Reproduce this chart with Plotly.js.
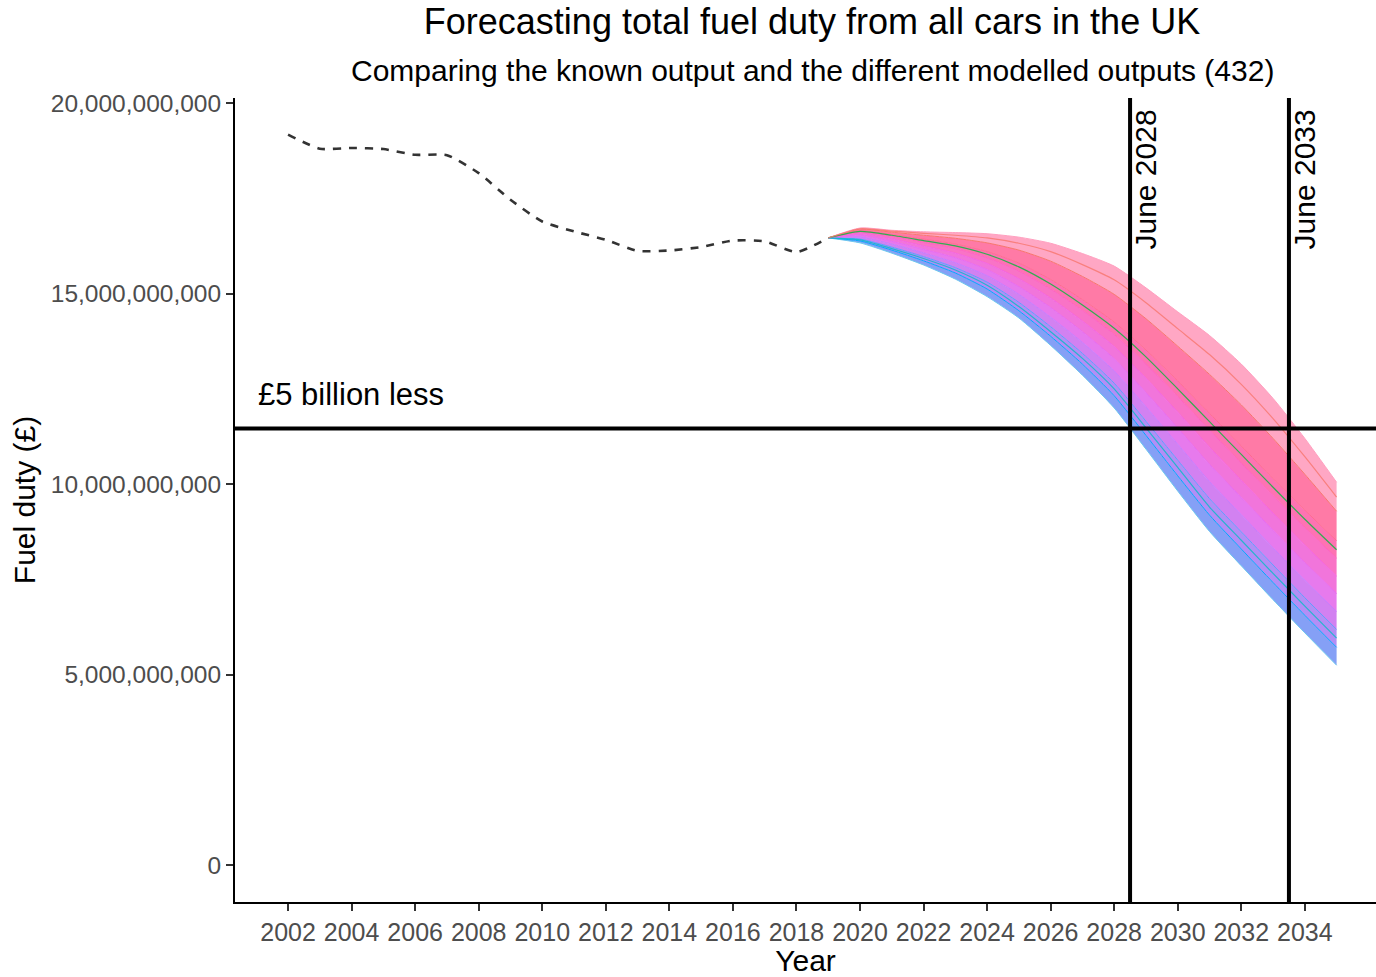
<!DOCTYPE html>
<html>
<head>
<meta charset="utf-8">
<script src="https://cdn.plot.ly/plotly-3.0.1.min.js"></script>
<style>
  html, body { margin: 0; padding: 0; background: #fff; }
  #chart { width: 1376px; height: 977px; }
</style>
</head>
<body>
<div id="chart"></div>
<script>
// ---------------- DATA (values in £ billions) ----------------
const YEARS_HIST = [2002,2003,2004,2005,2006,2007,2008,2009,2010,2011,2012,2013,2014,2015,2016,2017,2018,2019];
const DUTY_HIST_BN = [19.17,18.80,18.82,18.79,18.64,18.63,18.16,17.46,16.89,16.63,16.41,16.12,16.13,16.22,16.39,16.37,16.09,16.46];

const YEARS_MODEL = [2019,2020,2021,2022,2023,2024,2025,2026,2027,2028,2029,2030,2031,2032,2033,2034,2035];
// representative modelled runs, lowest to highest
const run01 = [16.46,16.33,16.06,15.75,15.38,14.92,14.36,13.64,12.86,12.00,10.92,9.82,8.76,7.86,6.97,6.10,5.25];
const run02 = [16.46,16.38,16.14,15.86,15.54,15.12,14.55,13.88,13.15,12.32,11.28,10.22,9.19,8.30,7.42,6.56,5.72];
const run03 = [16.46,16.43,16.22,15.97,15.68,15.30,14.77,14.13,13.43,12.65,11.65,10.63,9.62,8.75,7.88,7.02,6.19];
const run04 = [16.46,16.48,16.30,16.07,15.81,15.47,14.98,14.38,13.72,12.97,12.03,11.05,10.07,9.20,8.33,7.48,6.66];
const run05 = [16.46,16.53,16.37,16.16,15.94,15.63,15.18,14.63,14.00,13.29,12.40,11.47,10.52,9.65,8.79,7.94,7.13];
const run06 = [16.46,16.57,16.44,16.25,16.06,15.79,15.39,14.88,14.28,13.61,12.78,11.89,10.97,10.10,9.24,8.40,7.59];
const run07 = [16.46,16.61,16.50,16.34,16.18,15.94,15.59,15.12,14.56,13.93,13.15,12.30,11.42,10.55,9.70,8.86,8.06];
const run08 = [16.46,16.65,16.55,16.43,16.30,16.10,15.80,15.37,14.84,14.25,13.52,12.71,11.86,11.00,10.15,9.32,8.52];
const run09 = [16.46,16.69,16.61,16.53,16.45,16.33,16.14,15.85,15.45,14.98,14.34,13.62,12.88,12.08,11.20,10.26,9.29];
const run10 = [16.46,16.72,16.66,16.62,16.60,16.57,16.48,16.32,16.05,15.72,15.15,14.52,13.90,13.15,12.25,11.20,10.05];
// a few individually visible runs inside the band
const runA = [16.46,16.63,16.53,16.39,16.25,16.03,15.70,15.25,14.70,14.09,13.34,12.50,11.64,10.78,9.92,9.08,8.28];
const runB = [16.46,16.41,16.18,15.92,15.62,15.22,14.66,14.00,13.30,12.50,11.48,10.44,9.40,8.53,7.66,6.80,5.96];
const runC = [16.46,16.70,16.64,16.58,16.53,16.46,16.32,16.10,15.76,15.36,14.76,14.08,13.40,12.62,11.72,10.72,9.66];

const X_TICKS = [2002,2004,2006,2008,2010,2012,2014,2016,2018,2020,2022,2024,2026,2028,2030,2032,2034];
const Y_TICKS = [0, 5e9, 10e9, 15e9, 20e9];
const Y_TICK_TEXT = ['0','5,000,000,000','10,000,000,000','15,000,000,000','20,000,000,000'];

const MARKERS = [{year: 2028.5, label: 'June 2028'}, {year: 2033.5, label: 'June 2033'}];
const GAP_BN = 5;
const N_RUNS_LABEL = 432;

// ---------------- STYLE ----------------
const RUNS = [run01,run02,run03,run04,run05,run06,run07,run08,run09,run10];
const STROKES = ['#6CC8EE','#00A9FF','#619CFF','#C77CFF','#E76BF3','#F564E3','#FF61C3','#FF6C91','#F8766D','#FFA0C0'];
const FILLS = [null,
  'rgba(120,150,245,0.9)','rgba(170,130,245,0.9)','rgba(205,115,240,0.9)','rgba(228,108,235,0.9)',
  'rgba(240,102,215,0.9)','rgba(248,100,192,0.9)','rgba(253,100,170,0.9)','rgba(255,108,156,0.9)','rgba(255,152,186,0.85)'];
const EXTRA = [{run: runA, color: '#00BA38'}, {run: runB, color: '#00BFC4'}, {run: runC, color: '#F8766D'}];
const FONT = 'Liberation Sans, Arial, Helvetica, sans-serif';
const bn = v => v * 1e9;

const traces = [];
RUNS.forEach((r, i) => {
  traces.push({
    type: 'scatter', mode: 'lines', x: YEARS_MODEL, y: r.map(bn),
    line: {color: STROKES[i], width: 1, shape: 'spline', smoothing: 0.6},
    fill: i === 0 ? 'none' : 'tonexty',
    fillcolor: FILLS[i] || undefined,
    hoverinfo: 'skip', showlegend: false
  });
});
EXTRA.forEach(e => traces.push({
  type: 'scatter', mode: 'lines', x: YEARS_MODEL, y: e.run.map(bn),
  line: {color: e.color, width: 1.2, shape: 'spline', smoothing: 0.6}, opacity: 0.8,
  hoverinfo: 'skip', showlegend: false
}));
traces.push({
  type: 'scatter', mode: 'lines', x: YEARS_HIST, y: DUTY_HIST_BN.map(bn),
  line: {color: '#333333', width: 2.6, dash: '8px,8px', shape: 'spline', smoothing: 0.6},
  showlegend: false
});

const threshold = bn(DUTY_HIST_BN[DUTY_HIST_BN.length - 1] - GAP_BN);

const shapes = [
  {type: 'line', xref: 'paper', x0: 0, x1: 1, yref: 'y', y0: threshold, y1: threshold, line: {color: '#000', width: 4}}
];
MARKERS.forEach(m => shapes.push({type: 'line', xref: 'x', x0: m.year, x1: m.year, yref: 'paper', y0: 0, y1: 1, line: {color: '#000', width: 4}}));

const annotations = [
  {x: 2000.99, y: bn(12.34), xref: 'x', yref: 'y', text: '£' + GAP_BN + ' billion less', showarrow: false,
   xanchor: 'left', yanchor: 'middle', font: {family: FONT, size: 31, color: '#000'}},
  {x: 0.5057, y: 1.0348, xref: 'paper', yref: 'paper', xanchor: 'center', yanchor: 'middle', showarrow: false,
   text: 'Comparing the known output and the different modelled outputs (' + N_RUNS_LABEL + ')',
   font: {family: FONT, size: 30, color: '#000'}}
];
MARKERS.forEach(m => annotations.push({
  x: m.year + 0.5, y: bn(17.99), xref: 'x', yref: 'y', text: m.label, showarrow: false, textangle: -90,
  xanchor: 'center', yanchor: 'middle', font: {family: FONT, size: 30, color: '#000'}
}));

const layout = {
  width: 1376, height: 977,
  margin: {l: 235, r: 0, t: 98, b: 75},
  paper_bgcolor: '#fff', plot_bgcolor: '#fff',
  font: {family: FONT},
  title: {
    text: 'Forecasting total fuel duty from all cars in the UK',
    font: {family: FONT, size: 36, color: '#000'},
    x: 0.5057, xref: 'paper', xanchor: 'center',
    y: 0.978, yref: 'container', yanchor: 'middle'
  },
  xaxis: {
    range: [2000.33, 2036.24], tickvals: X_TICKS, ticks: 'outside', ticklen: 7, tickwidth: 2, tickcolor: '#333',
    showline: true, linecolor: '#000', linewidth: 2, showgrid: false, zeroline: false,
    tickfont: {family: FONT, size: 25, color: '#4d4d4d'},
    title: {text: 'Year', font: {family: FONT, size: 30, color: '#000'}, standoff: 2}
  },
  yaxis: {
    range: [-0.96e9, 20.13e9], tickvals: Y_TICKS, ticktext: Y_TICK_TEXT, ticks: 'outside', ticklen: 7, tickwidth: 2, tickcolor: '#333',
    showline: true, linecolor: '#000', linewidth: 2, showgrid: false, zeroline: false,
    tickfont: {family: FONT, size: 24.5, color: '#4d4d4d'},
    title: {text: 'Fuel duty (£)', font: {family: FONT, size: 30, color: '#000'}, standoff: 6}
  },
  shapes: shapes,
  annotations: annotations,
  showlegend: false
};

Plotly.newPlot('chart', traces, layout, {displayModeBar: false, staticPlot: true});
</script>
</body>
</html>
